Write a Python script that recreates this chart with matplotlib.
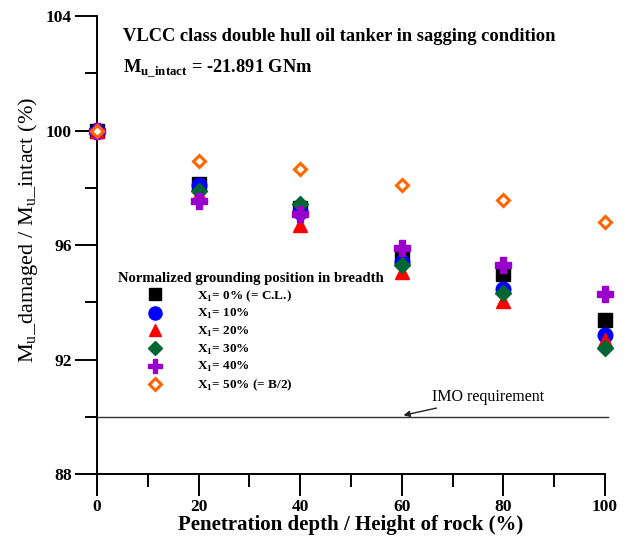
import numpy as np
import matplotlib.pyplot as plt
from matplotlib.ticker import MultipleLocator

plt.rcParams['font.family'] = ['Liberation Serif', 'DejaVu Serif']
plt.rcParams['mathtext.fontset'] = 'custom'
plt.rcParams['mathtext.rm'] = 'Liberation Serif'
plt.rcParams['mathtext.bf'] = 'Liberation Serif:bold'

# Data
depth = [0, 20, 40, 60, 80, 100]
x1_0 = [100.0, 98.13, 97.28, 95.59, 94.98, 93.38]
x1_10 = [100.0, 98.10, 97.16, 95.42, 94.47, 92.86]
x1_20 = [100.0, 97.80, 96.70, 95.07, 94.05, 92.68]
x1_30 = [100.0, 97.89, 97.42, 95.30, 94.31, 92.39]
x1_40 = [100.0, 97.55, 97.08, 95.91, 95.29, 94.28]
x1_50 = [100.0, 98.93, 98.66, 98.10, 97.57, 96.80]
labels = [r'X$_\mathbf{1}$= 0% (= C.L.)', r'X$_\mathbf{1}$= 10%', r'X$_\mathbf{1}$= 20%',
          r'X$_\mathbf{1}$= 30%', r'X$_\mathbf{1}$= 40%', r'X$_\mathbf{1}$= 50% (= B/2)']
imo_limit = 90

fig = plt.figure(figsize=(6.27, 5.38), dpi=100)
ax = fig.add_axes([0.1547, 0.119, 0.8103, 0.851])

ax.plot(depth, x1_0, 's', color='black', ms=9.5, label=labels[0], clip_on=False, zorder=3)
ax.plot(depth, x1_10, 'o', color='blue', ms=10.5, label=labels[1], clip_on=False, zorder=3)
ax.plot(depth, x1_20, '^', color='red', ms=10, label=labels[2], clip_on=False, zorder=3)
ax.plot(depth, x1_30, 'D', color='#006633', ms=8, label=labels[3], clip_on=False, zorder=3)
ax.plot(depth, x1_40, 'P', color='#9900CC', ms=11, label=labels[4], clip_on=False, zorder=3)
ax.plot(depth, x1_50, 'D', mfc='white', mec='#FF6600', mew=2.2, ms=6.5,
        ls='none', label=labels[5], clip_on=False, zorder=4)

# IMO requirement line
ax.plot([0, 100.5], [imo_limit, imo_limit], color='#333333', lw=1, clip_on=False)
ax.annotate('IMO requirement', xy=(59.8, 90.03), xytext=(66, 90.7),
            fontsize=11.5, va='center',
            arrowprops=dict(arrowstyle='-|>', color='#222222', lw=1, mutation_scale=9))

ax.set_xlim(0, 100)
ax.set_ylim(88, 104)
ax.xaxis.set_major_locator(MultipleLocator(20))
ax.xaxis.set_minor_locator(MultipleLocator(10))
ax.yaxis.set_major_locator(MultipleLocator(4))
ax.yaxis.set_minor_locator(MultipleLocator(2))
ax.spines['top'].set_visible(False)
ax.spines['right'].set_visible(False)
for s in ['left', 'bottom']:
    ax.spines[s].set_linewidth(1.4)
ax.tick_params(which='major', direction='out', length=16, width=1.4, labelsize=12.5, pad=2)
ax.tick_params(which='minor', direction='out', length=9, width=1.4)
for t in ax.get_xticklabels() + ax.get_yticklabels():
    t.set_fontweight('bold')

ax.set_xlabel('Penetration depth / Height of rock (%)', fontsize=15, fontweight='bold', labelpad=0)
ax.set_ylabel(r'M$_\mathrm{u}$_damaged / M$_\mathrm{u}$_intact (%)', fontsize=16)
ax.yaxis.set_label_coords(-0.112, 0.533)

ax.text(0.051, 0.955, 'VLCC class double hull oil tanker in sagging condition',
        transform=ax.transAxes, fontsize=13.3, fontweight='bold', va='center')
ax.text(0.051, 0.885, r'M$_\mathbf{u\_intact}$ = -21.891 GNm',
        transform=ax.transAxes, fontsize=13.3, fontweight='bold', va='center')

leg = ax.legend(loc='upper left', bbox_to_anchor=(0.041, 0.442), frameon=False,
                title='Normalized grounding position in breadth',
                title_fontproperties={'weight': 'bold', 'size': 10.6},
                prop={'weight': 'bold', 'size': 9.5}, handlelength=5.6, handletextpad=0.4,
                labelspacing=0.27, markerscale=0.9, borderaxespad=0, borderpad=0)
leg._legend_box.align = 'left'

fig.savefig('out.png', dpi=100)
